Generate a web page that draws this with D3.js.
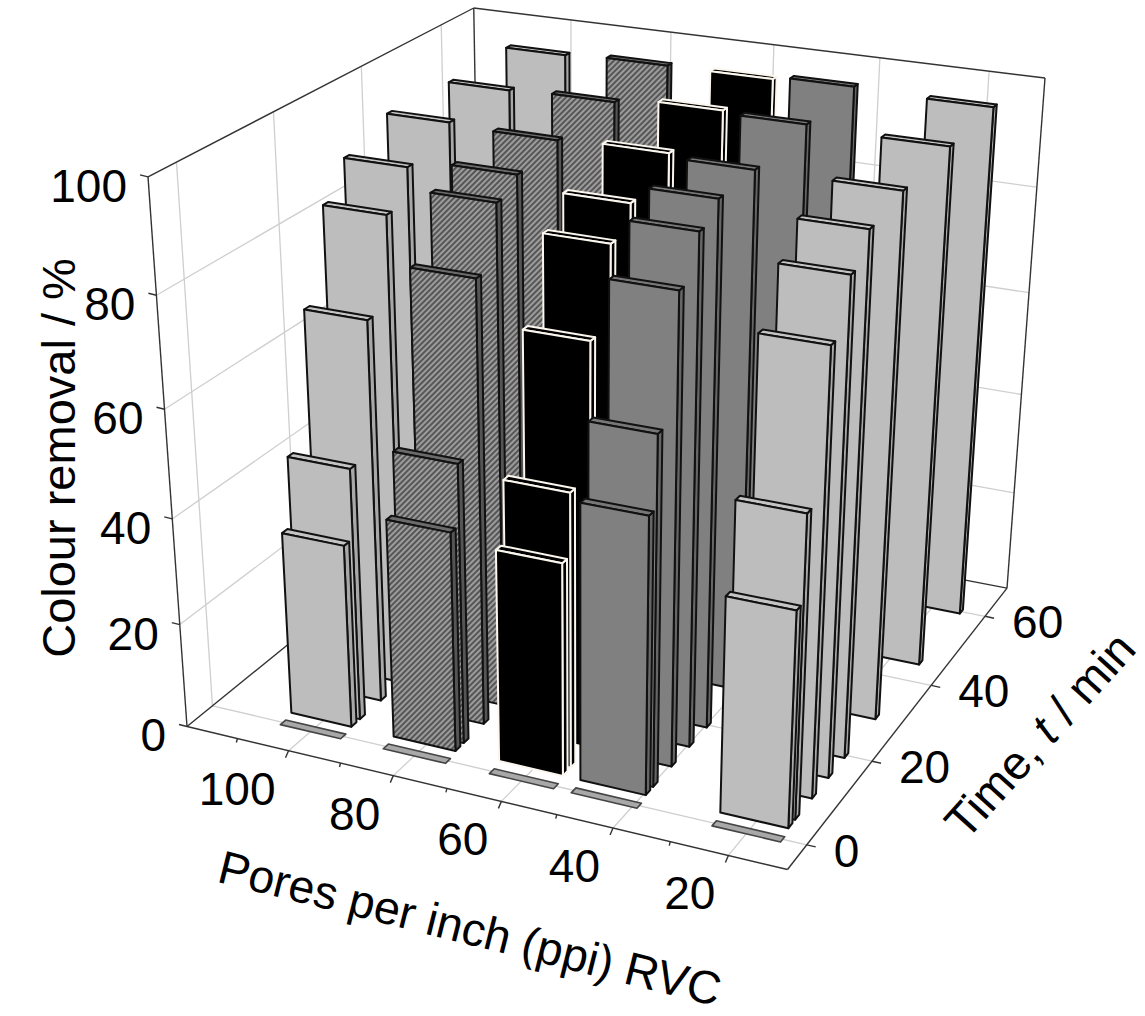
<!DOCTYPE html>
<html><head><meta charset="utf-8">
<script src="https://cdn.jsdelivr.net/npm/d3@7"></script>
<style>html,body{margin:0;padding:0;background:#fff}svg{display:block}text{font-family:"Liberation Sans",Arial,sans-serif;fill:#000}</style>
</head><body><svg id="c" width="1145" height="1016"></svg>
<script>
const ppiValues=[100,80,60,45,20];
const timeValues=[0,3,5,10,15,20,30,45,60];
const removal100=[0,35,48,72,88,94,97.5,97,97.5];
const removal80=[0,41.5,52.7,82.5,93,95.5,97,97.4,98];
const removal60=[0,40,51.4,75,89,93.5,97.5,98.5,98];
const removal45=[0,51.5,64.5,86,93.3,96.4,96.7,98,98.5];
const removal20=[0,40,55.6,81,90,95,96.7,97.5,98];
const ppiTicks=[100,80,60,40,20];
const ppiMinorTicks=[110,90,70,50,30];
const timeTicks=[0,20,40,60];
const valueTicks=[0,20,40,60,80,100];
const seriesRows=[removal100,removal80,removal60,removal45,removal20];
const styles=[
 {front:"#bdbdbd",top:"#c4c4c4",side:"#a8a8a8",stroke:"#111"},
 {front:"url(#hatch)",top:"#6a6a6a",side:"#555",stroke:"#111"},
 {front:"#000",top:"#000",side:"#000",stroke:"#fbf6ee"},
 {front:"#808080",top:"#777",side:"#666",stroke:"#111"},
 {front:"#bdbdbd",top:"#c4c4c4",side:"#a8a8a8",stroke:"#111"}];
const flatStyle={top:"#a8a8a8",side:"#666",stroke:"#444"};
// projective frame read from the box corners
const A=[187,727],B=[787,870],C=[1007,588],D=[482,487],Dt=[474,8];
const VS=[-6331,-826],VT=[2129,-850],VW=[582,6295];
const ka=(C[0]-D[0])/(VS[0]-C[0]),kb=(A[0]-D[0])/(VT[0]-A[0]),kc=(Dt[1]-D[1])/(VW[1]-Dt[1]);
const sx=d3.scaleLinear().domain([120,10]).range([0,1]);
const st=d3.scaleLinear().domain([68.7,-5.5]).range([0,1]);
const sz=d3.scaleLinear().domain([0,100]).range([0,1]);
function P(ppi,t,z){const s=sx(ppi),u=st(t),w=sz(z);
 const h=1+ka*s+kb*u+kc*w;
 return [(D[0]+ka*s*VS[0]+kb*u*VT[0]+kc*w*VW[0])/h,(D[1]+ka*s*VS[1]+kb*u*VT[1]+kc*w*VW[1])/h];}
const svg=d3.select("#c");
const defs=svg.append("defs");
const pat=defs.append("pattern").attr("id","hatch").attr("width",4).attr("height",4).attr("patternUnits","userSpaceOnUse").attr("patternTransform","rotate(-45)");
pat.append("rect").attr("width",4).attr("height",4).attr("fill","#9c9c9c");
pat.append("rect").attr("width",4).attr("height",2).attr("fill","#565656");
const X0=120,X1=10,T0=-5.5,T1=68.7,Z1=100;
const line=(g,a,b,col,w)=>g.append("line").attr("x1",a[0]).attr("y1",a[1]).attr("x2",b[0]).attr("y2",b[1]).attr("stroke",col).attr("stroke-width",w);
const grid=svg.append("g");const GC="#cfcfcf";
ppiTicks.forEach(p=>{line(grid,P(p,T0,0),P(p,T1,0),GC,1.3);line(grid,P(p,T1,0),P(p,T1,Z1),GC,1.3);});
timeTicks.forEach(t=>{line(grid,P(X0,t,0),P(X1,t,0),GC,1.3);line(grid,P(X0,t,0),P(X0,t,Z1),GC,1.3);});
valueTicks.slice(1,-1).forEach(z=>{line(grid,P(X0,T0,z),P(X0,T1,z),GC,1.3);line(grid,P(X0,T1,z),P(X1,T1,z),GC,1.3);});
const box=svg.append("g");const BC="#333";
[[P(X0,T0,0),P(X1,T0,0)],[P(X1,T0,0),P(X1,T1,0)],[P(X1,T1,0),P(X0,T1,0)],[P(X0,T1,0),P(X0,T0,0)],
 [P(X0,T0,0),P(X0,T0,Z1)],[P(X0,T0,Z1),P(X0,T1,Z1)],[P(X0,T1,Z1),P(X1,T1,Z1)],[P(X1,T1,Z1),P(X1,T1,0)],[P(X0,T1,0),P(X0,T1,Z1)]]
 .forEach(e=>line(box,e[0],e[1],BC,1.4));
// ticks
const tick=(p,dx,dy)=>line(box,p,[p[0]+dx,p[1]+dy],BC,1.4);
ppiTicks.forEach(p=>tick(P(p,T0,0),-3,7));ppiMinorTicks.forEach(p=>tick(P(p,T0,0),-1,4));
timeTicks.forEach(t=>tick(P(X1,t,0),9,2));
valueTicks.forEach(z=>tick(P(X0,T0,z),-8,-2));
// labels
const FS=46;
const lab=svg.append("g").attr("font-size",FS);
ppiTicks.forEach(p=>{const q=P(p,T0,0);lab.append("text").attr("x",q[0]-13).attr("y",q[1]+54).attr("text-anchor","end").text(p);});
timeTicks.forEach(t=>{const q=P(X1,t,0);lab.append("text").attr("x",q[0]+27).attr("y",q[1]+22).text(t);});
valueTicks.forEach(z=>{const q=P(X0,T0,z);lab.append("text").attr("x",q[0]-21).attr("y",q[1]+25).attr("text-anchor","end").text(z);});
const titles=svg.append("g").attr("font-size",47);
titles.append("text").attr("transform","translate(75,458) rotate(-90)").attr("text-anchor","middle").text("Colour removal / %");
titles.append("text").attr("transform","translate(466,944) rotate(14)").attr("font-size",46.5).attr("text-anchor","middle").text("Pores per inch (ppi) RVC");
const tt=titles.append("text").attr("transform","translate(1052,746) rotate(-48)").attr("text-anchor","middle");
tt.append("tspan").text("Time, ");tt.append("tspan").attr("font-style","italic").text("t");tt.append("tspan").text(" / min");
// bars
const halfW=5.9,halfD=0.6,barShift=0.45;
const bars=[];
ppiValues.forEach((p,i)=>timeValues.forEach((t,j)=>{const z=seriesRows[i][j];bars.push({p,t,z,style:z>0?styles[i]:flatStyle});}));
bars.sort((a,b)=>d3.descending(a.t,b.t)||d3.descending(a.p,b.p));
const pts=a=>a.map(q=>q.join(",")).join(" ");
const barG=svg.append("g").selectAll("g").data(bars).join("g");
barG.each(function(d){const g=d3.select(this);
 const sh=d.z>0?barShift:0;
 const xl=d.p+sh+halfW,xr=d.p+sh-halfW,tf=d.t-halfD,tb=d.t+halfD,z=d.z;
 const poly=(a,fill)=>g.append("polygon").attr("points",pts(a)).attr("fill",fill).attr("stroke",d.style.stroke).attr("stroke-width",z>0?2:1.6).attr("stroke-linejoin","round");
 if(z>0)poly([P(xr,tf,0),P(xr,tb,0),P(xr,tb,z),P(xr,tf,z)],d.style.side);
 poly([P(xl,tf,z),P(xr,tf,z),P(xr,tb,z),P(xl,tb,z)],d.style.top);
 if(z>0)poly([P(xl,tf,0),P(xr,tf,0),P(xr,tf,z),P(xl,tf,z)],d.style.front);
});
</script></body></html>
